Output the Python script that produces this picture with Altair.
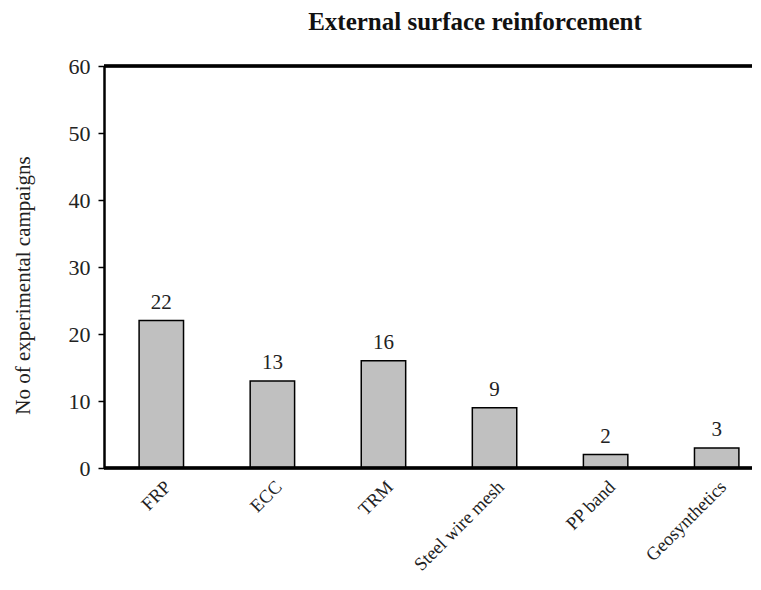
import altair as alt
import pandas as pd

categories = ["FRP", "ECC", "TRM", "Steel wire mesh", "PP band", "Geosynthetics"]
counts = [22, 13, 16, 9, 2, 3]

df = pd.DataFrame({"cat": categories, "n": counts})

FONT = "Liberation Serif"
W, H = 648, 402

x = alt.X("cat:N", sort=categories,
          scale=alt.Scale(range=[0, 670], paddingInner=0.6, paddingOuter=0.316),
          axis=alt.Axis(title=None, labelAngle=-45, labelFont=FONT, labelFontSize=18.5,
                        labelColor="#222", ticks=False, domain=False, labelPadding=9))
y = alt.Y("n:Q", scale=alt.Scale(domain=[0, 60]),
          axis=alt.Axis(title="No of experimental campaigns", values=[0, 10, 20, 30, 40, 50, 60],
                        titleFont=FONT, titleFontSize=21, titleFontWeight="normal", titleColor="#222",
                        titleX=-71, titleY=219,
                        labelFont=FONT, labelFontSize=22, labelColor="#222", labelPadding=8,
                        domainColor="black", domainWidth=2.5, tickColor="black", tickWidth=1.5,
                        tickSize=6, grid=False))

bars = alt.Chart(df).mark_bar(color="#c0c0c0", stroke="black", strokeWidth=1.5).encode(x=x, y=y)
text = alt.Chart(df).mark_text(font=FONT, fontSize=21, color="#222", baseline="alphabetic", dy=-12).encode(
    x=alt.X("cat:N", sort=categories), y="n:Q", text="n:Q")

top_line = alt.Chart(df).mark_rule(color="black", strokeWidth=2.5).encode(
    x=alt.value(0), x2=alt.value(700), y=alt.value(0))
bottom_line = alt.Chart(df).mark_rule(color="black", strokeWidth=2.5).encode(
    x=alt.value(0), x2=alt.value(700), y=alt.value(H))

chart = alt.layer(bars, text, top_line, bottom_line).properties(
    width=W, height=H,
    title=alt.TitleParams("External surface reinforcement", font=FONT, fontSize=25,
                          fontWeight="bold", color="#111", anchor="middle", dx=47, offset=20),
    autosize=alt.AutoSizeParams(type="none"),
    padding={"left": 96, "top": 58, "right": 0, "bottom": 114},
).configure_view(stroke=None)

chart.save("out.html", embed_options={"renderer": "svg", "actions": False})
